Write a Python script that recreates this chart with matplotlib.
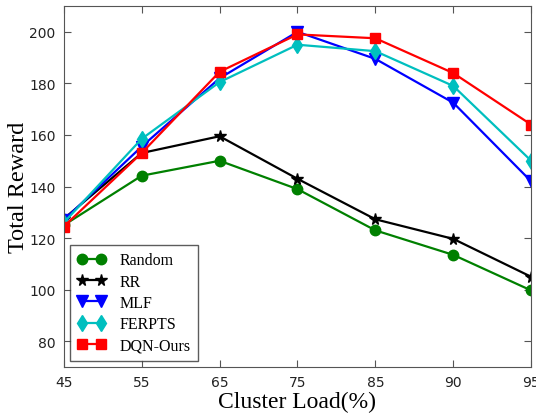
import matplotlib
matplotlib.use('Agg')
import matplotlib.pyplot as plt

loads = ['45', '55', '65', '75', '85', '90', '95']
random_reward = [125.0, 144.2, 150.0, 139.0, 123.0, 113.5, 99.7]
rr_reward = [127.5, 153.0, 159.5, 143.0, 127.3, 119.7, 105.0]
mlf_reward = [127.0, 155.5, 182.0, 200.0, 189.5, 172.5, 142.0]
ferpts_reward = [126.0, 158.5, 180.5, 195.0, 192.5, 179.0, 150.0]
dqn_reward = [124.5, 153.0, 184.5, 199.0, 197.5, 184.0, 164.0]

x = list(range(len(loads)))

fig = plt.figure(figsize=(5.36, 4.14), dpi=100)
ax = fig.add_axes([0.119, 0.111, 0.872, 0.872])

ax.plot(x, random_reward, color=(0, 0.5, 0), marker='o', markersize=7.5, lw=1.6, label='Random')
ax.plot(x, rr_reward, color='k', marker='*', markersize=8.5, lw=1.6, label='RR')
ax.plot(x, mlf_reward, color='b', marker='v', markersize=8, lw=1.6, label='MLF')
ax.plot(x, ferpts_reward, color=(0, 0.75, 0.75), marker='d', markersize=8.5, lw=1.6, label='FERPTS')
ax.plot(x, dqn_reward, color='r', marker='s', markersize=7.5, lw=1.6, label='DQN-Ours')

ax.set_xlim(0, len(loads) - 1)
ax.set_ylim(70, 210)
ax.set_xticks(x)
ax.set_xticklabels(loads)
ax.set_yticks([80, 100, 120, 140, 160, 180, 200])
ax.tick_params(direction='in', top=True, right=True, length=5, labelsize=10, pad=6,
               labelcolor='#222222', color='#555555')
for s in ax.spines.values():
    s.set_color('#555555')

ax.set_xlabel('Cluster Load(%)', family='Liberation Serif', fontsize=17, labelpad=1)
ax.set_ylabel('Total Reward', family='Liberation Serif', fontsize=17.5, labelpad=0)

leg = ax.legend(loc='lower left', numpoints=2, fancybox=False, prop={'family': 'Liberation Serif', 'size': 11.5},
                borderaxespad=0.4, handlelength=1.8, handletextpad=0.85, labelspacing=0.33,
                borderpad=0.45)
leg.get_frame().set_edgecolor('#333333')
leg.get_frame().set_linewidth(1)

plt.savefig('out.png', dpi=100)
